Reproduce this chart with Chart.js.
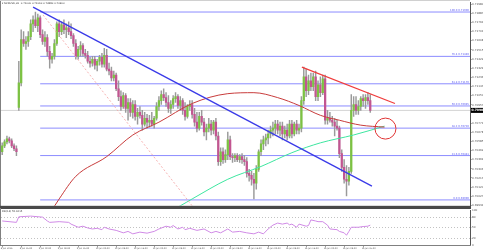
<!DOCTYPE html>
<html>
<head>
<meta charset="utf-8">
<title>NZDUSD H1</title>
<script src="https://cdn.jsdelivr.net/npm/chart.js@4.4.1/dist/chart.umd.min.js"></script>
<style>
  html, body { margin: 0; padding: 0; background: #fff; }
  #wrap { position: relative; width: 483px; height: 252px; overflow: hidden; }
  canvas { position: absolute; left: 0; }
  #main { top: 0; }
  #rsi { top: 208px; }
</style>
</head>
<body>
<div id="wrap">
  <canvas id="main" width="483" height="208"></canvas>
  <canvas id="rsi" width="483" height="44"></canvas>
</div>
<script>
/* NZDUSD H1 with fib retracement, trend lines, two moving averages and RSI(14).
 * Candles are floating bars (wick + body); everything else is line/bubble datasets. */

const SYMBOL = "NZDUSD,H1";
const FONT = "'DejaVu Sans'";

// one row per hourly bar: [open, high, low, close]
const candles = [
  [0.7048,0.7057,0.7045,0.7054],[0.7054,0.7060,0.7052,0.7058],[0.7058,0.7064,0.7056,0.7061],[0.7061,0.7063,0.7057,0.7059],
  [0.7059,0.7061,0.7052,0.7054],[0.7054,0.7056,0.7049,0.7051],[0.7051,0.7054,0.7044,0.7048],[0.7093,0.7140,0.7090,0.7118],
  [0.7118,0.7172,0.7115,0.7162],[0.7162,0.7170,0.7155,0.7158],[0.7158,0.7165,0.7152,0.7160],[0.7160,0.7170,0.7155,0.7165],
  [0.7165,0.7182,0.7162,0.7178],[0.7178,0.7186,0.7170,0.7182],[0.7182,0.7190,0.7174,0.7176],[0.7176,0.7188,0.7170,0.7184],
  [0.7184,0.7186,0.7164,0.7167],[0.7167,0.7172,0.7157,0.7160],[0.7160,0.7170,0.7155,0.7164],[0.7164,0.7167,0.7145,0.7150],
  [0.7150,0.7155,0.7133,0.7142],[0.7142,0.7148,0.7138,0.7145],[0.7145,0.7162,0.7142,0.7158],[0.7158,0.7180,0.7156,0.7178],
  [0.7178,0.7182,0.7165,0.7170],[0.7170,0.7180,0.7167,0.7177],[0.7177,0.7182,0.7168,0.7172],[0.7172,0.7178,0.7164,0.7174],
  [0.7174,0.7180,0.7167,0.7170],[0.7170,0.7178,0.7163,0.7166],[0.7166,0.7168,0.7155,0.7158],[0.7158,0.7162,0.7142,0.7145],
  [0.7145,0.7155,0.7142,0.7152],[0.7152,0.7160,0.7145,0.7156],[0.7156,0.7158,0.7145,0.7148],[0.7148,0.7152,0.7143,0.7146],
  [0.7146,0.7150,0.7138,0.7140],[0.7140,0.7144,0.7134,0.7138],[0.7138,0.7145,0.7135,0.7142],[0.7142,0.7145,0.7132,0.7136],
  [0.7136,0.7142,0.7130,0.7140],[0.7140,0.7146,0.7136,0.7144],[0.7144,0.7148,0.7134,0.7137],[0.7137,0.7153,0.7134,0.7146],
  [0.7146,0.7152,0.7130,0.7132],[0.7132,0.7138,0.7126,0.7130],[0.7130,0.7134,0.7120,0.7123],[0.7123,0.7130,0.7120,0.7126],
  [0.7126,0.7128,0.7110,0.7112],[0.7112,0.7120,0.7100,0.7104],[0.7104,0.7110,0.7090,0.7094],[0.7094,0.7108,0.7092,0.7105],
  [0.7105,0.7107,0.7088,0.7092],[0.7092,0.7102,0.7080,0.7098],[0.7098,0.7102,0.7084,0.7088],[0.7088,0.7100,0.7082,0.7096],
  [0.7096,0.7100,0.7080,0.7084],[0.7084,0.7092,0.7076,0.7088],[0.7088,0.7094,0.7082,0.7085],[0.7085,0.7090,0.7070,0.7076],
  [0.7076,0.7088,0.7074,0.7082],[0.7082,0.7086,0.7072,0.7078],[0.7078,0.7085,0.7073,0.7080],[0.7080,0.7088,0.7074,0.7076],
  [0.7076,0.7084,0.7072,0.7082],[0.7082,0.7098,0.7080,0.7094],[0.7094,0.7104,0.7090,0.7100],[0.7100,0.7110,0.7096,0.7106],
  [0.7106,0.7112,0.7100,0.7103],[0.7103,0.7108,0.7094,0.7098],[0.7098,0.7105,0.7088,0.7092],[0.7092,0.7100,0.7087,0.7096],
  [0.7096,0.7105,0.7092,0.7102],[0.7102,0.7108,0.7098,0.7104],[0.7104,0.7106,0.7092,0.7095],[0.7095,0.7104,0.7090,0.7100],
  [0.7100,0.7102,0.7086,0.7090],[0.7090,0.7098,0.7080,0.7084],[0.7084,0.7096,0.7082,0.7094],[0.7094,0.7100,0.7090,0.7096],
  [0.7096,0.7100,0.7082,0.7086],[0.7086,0.7092,0.7074,0.7078],[0.7078,0.7088,0.7068,0.7072],[0.7072,0.7088,0.7070,0.7084],
  [0.7084,0.7090,0.7075,0.7078],[0.7078,0.7082,0.7064,0.7068],[0.7068,0.7076,0.7060,0.7072],[0.7072,0.7082,0.7068,0.7076],
  [0.7076,0.7080,0.7065,0.7070],[0.7070,0.7080,0.7066,0.7078],[0.7078,0.7082,0.7060,0.7064],[0.7064,0.7068,0.7034,0.7038],
  [0.7038,0.7052,0.7034,0.7048],[0.7048,0.7052,0.7036,0.7040],[0.7040,0.7050,0.7037,0.7045],[0.7045,0.7068,0.7040,0.7060],
  [0.7060,0.7064,0.7040,0.7043],[0.7043,0.7046,0.7037,0.7042],[0.7042,0.7046,0.7038,0.7044],[0.7044,0.7046,0.7038,0.7040],
  [0.7040,0.7045,0.7037,0.7043],[0.7043,0.7046,0.7036,0.7040],[0.7040,0.7044,0.7034,0.7038],[0.7038,0.7042,0.7022,0.7026],
  [0.7026,0.7030,0.7018,0.7024],[0.7024,0.7028,0.7014,0.7020],[0.7020,0.7026,0.7000,0.7016],[0.7016,0.7034,0.7010,0.7030],
  [0.7030,0.7050,0.7028,0.7048],[0.7048,0.7060,0.7044,0.7056],[0.7056,0.7064,0.7050,0.7060],[0.7060,0.7066,0.7054,0.7062],
  [0.7062,0.7070,0.7056,0.7066],[0.7066,0.7074,0.7062,0.7070],[0.7070,0.7078,0.7064,0.7072],[0.7072,0.7080,0.7066,0.7076],
  [0.7076,0.7080,0.7066,0.7070],[0.7070,0.7078,0.7064,0.7074],[0.7074,0.7078,0.7060,0.7066],[0.7066,0.7074,0.7062,0.7070],
  [0.7070,0.7076,0.7060,0.7064],[0.7064,0.7080,0.7062,0.7076],[0.7076,0.7080,0.7062,0.7066],[0.7066,0.7078,0.7064,0.7076],
  [0.7076,0.7080,0.7066,0.7070],[0.7070,0.7076,0.7066,0.7072],[0.7072,0.7104,0.7068,0.7100],[0.7100,0.7134,0.7096,0.7124],
  [0.7124,0.7132,0.7104,0.7110],[0.7110,0.7126,0.7106,0.7120],[0.7120,0.7128,0.7110,0.7114],[0.7114,0.7128,0.7110,0.7124],
  [0.7124,0.7130,0.7100,0.7104],[0.7104,0.7120,0.7100,0.7116],[0.7116,0.7124,0.7104,0.7108],[0.7108,0.7126,0.7106,0.7122],
  [0.7122,0.7126,0.7076,0.7080],[0.7080,0.7090,0.7076,0.7082],[0.7082,0.7088,0.7078,0.7080],[0.7080,0.7084,0.7074,0.7078],
  [0.7078,0.7082,0.7064,0.7074],[0.7074,0.7080,0.7070,0.7072],[0.7072,0.7074,0.7042,0.7046],[0.7046,0.7050,0.7028,0.7032],
  [0.7032,0.7040,0.7016,0.7020],[0.7020,0.7034,0.7003,0.7018],[0.7018,0.7032,0.7014,0.7028],[0.7028,0.7106,0.7026,0.7090],
  [0.7090,0.7104,0.7084,0.7096],[0.7096,0.7104,0.7086,0.7090],[0.7090,0.7100,0.7086,0.7094],[0.7094,0.7104,0.7090,0.7102],
  [0.7102,0.7106,0.7094,0.7100],[0.7100,0.7106,0.7092,0.7103],[0.7103,0.7108,0.7096,0.7100],[0.7100,0.7106,0.7088,0.7090]
];

// x-axis labels, one every 8 bars
const timeLabels = [
  "8 Jun 2016", "8 Jun 16:00", "9 Jun 00:00", "9 Jun 08:00", "9 Jun 16:00",
  "10 Jun 00:00", "10 Jun 08:00", "10 Jun 16:00", "13 Jun 00:00", "13 Jun 08:00",
  "13 Jun 16:00", "14 Jun 00:00", "14 Jun 08:00", "14 Jun 16:00", "15 Jun 00:00",
  "15 Jun 08:00", "15 Jun 16:00", "16 Jun 00:00", "16 Jun 08:00", "16 Jun 16:00"
];
const LABEL_STEP = 8;

// right price axis labels
const priceTicks = [
  0.71980, 0.71887, 0.71794, 0.71701, 0.71608, 0.71515, 0.71422, 0.71329, 0.71236, 0.71143,
  0.71050, 0.70957, 0.70771, 0.70678, 0.70585, 0.70492, 0.70399, 0.70306, 0.70213,
  0.70120, 0.70027, 0.69934
];
const PRICE_MIN = 0.6993;
const PRICE_MAX = 0.7200;

// fibonacci retracement, drawn from the swing high to the right edge
const fibLevels = [100, 76.4, 61.8, 50, 38.2, 23.6, 0];
const fibHigh = 0.71900;
const fibLow = 0.69990;
const fibStartBar = 16;

// moving averages at a handful of bars
const maRedBars = [20, 24, 31, 44, 55, 66, 80, 95, 106, 116, 125, 134, 142, 151, 161];
const maRedVals = [0.6985, 0.7000, 0.7023, 0.7043, 0.7065, 0.7078, 0.7097, 0.7107, 0.7108, 0.7103, 0.7095, 0.7085, 0.7080, 0.7075, 0.7073];
const maGreenBars = [70, 75, 80, 95, 109, 122, 134, 148, 161];
const maGreenVals = [0.6987, 0.6993, 0.7000, 0.7020, 0.7033, 0.7047, 0.7057, 0.7065, 0.7074];

// hand-drawn objects: [bar, price] endpoints
const downTrend = [[13, 0.7195], [155.7, 0.7013]];
const resistance = [[126.2, 0.7134], [165.4, 0.7097]];
const dottedLine = [[17.2, 0.7187], [80, 0.6993]];
const circleMark = { bar: 161.4, price: 0.70715, r: 10.5 };

// RSI(14)
const rsiBars = [0, 6, 7, 12, 17, 19, 20, 24, 28, 29, 32, 34, 36, 38, 40, 42, 43, 45, 48, 51, 53, 55, 58, 61, 64, 66,
  69, 71, 72, 74, 76, 77, 79, 82, 85, 88, 90, 92, 95, 97, 100, 103, 106, 108, 110, 112, 114, 116, 118, 120, 121, 122,
  124, 125, 128, 129, 130, 132, 133, 135, 137, 138, 141, 142, 144, 145, 146, 147, 150, 152, 154, 155];
const rsiVals = [69, 65, 81, 83, 80, 69, 65, 67, 65, 60, 51, 54, 49, 46, 48, 44, 51, 46, 42, 35, 39, 32, 37, 34, 39, 46,
  54, 51, 56, 46, 51, 44, 48, 42, 46, 35, 39, 35, 46, 37, 39, 35, 32, 37, 32, 46, 57, 63, 60, 63, 58, 60,
  51, 60, 54, 56, 72, 69, 67, 67, 57, 46, 44, 39, 35, 28, 39, 51, 51, 53, 54, 57];
const rsiLevels = [0, 20, 50, 80, 100];
const RSI_TEXT = "RSI(14) 55.6215";

const X_MIN = -0.5;
const X_MAX = 197;
const AXIS_W = 13;

const BULL = "#7cc242";
const BEAR = "#c25591";
const WICK = "#9a9a9a";

const last = candles[candles.length - 1];
const pts = (arr) => arr.map(([x, y]) => ({ x, y }));
const zip = (xs, ys) => xs.map((x, k) => ({ x, y: ys[k] }));

const fixedWidth = (s) => { s.width = AXIS_W; };

const mainDecor = {
  id: "mainDecor",
  afterDatasetsDraw(chart) {
    const { ctx, chartArea: a, scales: { y } } = chart;
    ctx.save();
    // fib level captions sit just above each line at the right edge
    ctx.font = `2.6px ${FONT}`;
    ctx.fillStyle = "#5c5cf0";
    ctx.textAlign = "right";
    ctx.textBaseline = "bottom";
    fibLevels.forEach((lv) => {
      const p = fibLow + ((fibHigh - fibLow) * lv) / 100;
      ctx.fillText(`${lv.toFixed(1)} ${p.toFixed(5)}`, a.right - 1, y.getPixelForValue(p) - 0.3);
    });
    // symbol line in the top-left corner
    ctx.fillStyle = "#333";
    ctx.textAlign = "left";
    ctx.textBaseline = "middle";
    ctx.font = `2.5px ${FONT}`;
    ctx.fillText("\u25BE " + SYMBOL + "  " + last.map((v) => v.toFixed(5)).join(" "), 2, 3.5);
    // current price box on the axis
    const py = y.getPixelForValue(last[3]);
    ctx.fillStyle = "#000";
    ctx.fillRect(a.right + 1, py - 2.5, AXIS_W - 1, 5);
    ctx.fillStyle = "#fff";
    ctx.font = `bold 3px ${FONT}`;
    ctx.fillText(last[3].toFixed(5), a.right + 1.5, py + 0.2);
    // frame
    ctx.fillStyle = "#808080";
    ctx.fillRect(0, 0, 1, chart.height);
    ctx.fillStyle = "#d0d0d0";
    ctx.fillRect(0, 0, a.right, 1);
    ctx.fillStyle = "#4a4a4a";
    ctx.fillRect(0, a.bottom, a.right + 1, chart.height - a.bottom);
    ctx.restore();
  },
};

new Chart(document.getElementById("main"), {
  data: {
    datasets: [
      {
        type: "line", data: pts(downTrend), borderColor: "#3a3ae8", borderWidth: 1.3,
        pointRadius: 0,
      },
      {
        type: "line", data: pts(resistance), borderColor: "#f03c3c", borderWidth: 1.2,
        pointRadius: 0,
      },
      {
        type: "bubble", data: [{ x: circleMark.bar, y: circleMark.price, r: circleMark.r }],
        backgroundColor: "rgba(0,0,0,0)", borderColor: "#e03434", borderWidth: 1,
      },
      {
        type: "line", data: pts(dottedLine), borderColor: "#f4a0a0", borderWidth: 0.8,
        borderDash: [2, 2], pointRadius: 0,
      },
      {
        type: "line", data: zip(maRedBars, maRedVals), borderColor: "#c83c3c", borderWidth: 1,
        pointRadius: 0, cubicInterpolationMode: "monotone",
      },
      {
        type: "line", data: zip(maGreenBars, maGreenVals), borderColor: "#3ee6a0", borderWidth: 1,
        pointRadius: 0, cubicInterpolationMode: "monotone",
      },
      {
        type: "bar", grouped: false, barThickness: 1.6, minBarLength: 1,
        data: candles.map((c, i) => ({ x: i, y: [c[0], c[3]] })),
        backgroundColor: candles.map((c) => (c[3] >= c[0] ? BULL : BEAR)),
      },
      {
        type: "bar", grouped: false, barThickness: 0.8,
        data: candles.map((c, i) => ({ x: i, y: [c[2], c[1]] })),
        backgroundColor: WICK,
      },
      ...fibLevels.map((lv) => {
        const p = fibLow + ((fibHigh - fibLow) * lv) / 100;
        return {
          type: "line", data: [{ x: fibStartBar, y: p }, { x: X_MAX, y: p }],
          borderColor: "#8c8cff", borderWidth: 1, pointRadius: 0,
        };
      }),
      {
        type: "line", data: [{ x: X_MIN, y: last[3] }, { x: X_MAX, y: last[3] }],
        borderColor: "#d4d4d4", borderWidth: 1, pointRadius: 0,
      },
    ],
  },
  options: {
    responsive: false,
    animation: false,
    events: [],
    layout: { autoPadding: false, padding: { left: 1, top: 0, right: 0, bottom: 1 } },
    plugins: { legend: { display: false }, tooltip: { enabled: false } },
    scales: {
      x: { type: "linear", min: X_MIN, max: X_MAX, offset: false, display: false },
      y: {
        type: "linear", position: "right", min: PRICE_MIN, max: PRICE_MAX,
        afterFit: fixedWidth,
        afterBuildTicks: (s) => { s.ticks = priceTicks.map((v) => ({ value: v })); },
        grid: { drawOnChartArea: false, tickLength: 1.5, color: "#666" },
        border: { color: "#555" },
        ticks: {
          font: { size: 2.8, family: "DejaVu Sans" }, color: "#555", padding: 0.5,
          autoSkip: false, callback: (v) => v.toFixed(5),
        },
      },
    },
  },
  plugins: [mainDecor],
});

// RSI pane: time labels are placed from the x scale by this plugin
const rsiDecor = {
  id: "rsiDecor",
  afterDatasetsDraw(chart) {
    const { ctx, chartArea: a, scales: { x } } = chart;
    ctx.save();
    ctx.fillStyle = "#4a4a4a";
    ctx.fillRect(0, 0, a.right + 1, 1);
    ctx.fillStyle = "#808080";
    ctx.fillRect(0, 0, 1, a.bottom);
    ctx.fillRect(0, a.bottom, a.right + 1, 1);
    ctx.fillStyle = "#333";
    ctx.font = `2.5px ${FONT}`;
    ctx.textBaseline = "middle";
    ctx.fillText(RSI_TEXT, 2, 3);
    ctx.font = `2.2px ${FONT}`;
    timeLabels.forEach((t, k) => {
      const px = x.getPixelForValue(k * LABEL_STEP);
      ctx.fillStyle = "#777";
      ctx.fillRect(Math.round(px), a.bottom + 1, 0.7, 1.5);
      ctx.fillStyle = "#555";
      ctx.fillText(t, px - 1.5, a.bottom + 3.8);
    });
    ctx.restore();
  },
};

new Chart(document.getElementById("rsi"), {
  data: {
    datasets: [
      {
        type: "line", data: zip(rsiBars, rsiVals), borderColor: "#d08ae6", borderWidth: 1,
        pointRadius: 0, tension: 0,
      },
    ],
  },
  options: {
    responsive: false,
    animation: false,
    events: [],
    layout: { autoPadding: false, padding: { left: 1, top: 1, right: 0, bottom: 7 } },
    plugins: { legend: { display: false }, tooltip: { enabled: false } },
    scales: {
      x: { type: "linear", min: X_MIN, max: X_MAX, offset: false, display: false },
      y: {
        type: "linear", position: "right", min: 0, max: 100,
        afterFit: fixedWidth,
        afterBuildTicks: (s) => { s.ticks = rsiLevels.map((v) => ({ value: v })); },
        grid: {
          color: (c) => (c.tick && (c.tick.value === 0 || c.tick.value === 100) ? "rgba(0,0,0,0)" : "#a8a8a8"),
          lineWidth: 0.7, tickLength: 1.5,
        },
        border: { color: "#555", dash: [1, 2] },
        ticks: { font: { size: 2.8, family: "DejaVu Sans" }, color: "#555", padding: 0.5, autoSkip: false },
      },
    },
  },
  plugins: [rsiDecor],
});
</script>
</body>
</html>
